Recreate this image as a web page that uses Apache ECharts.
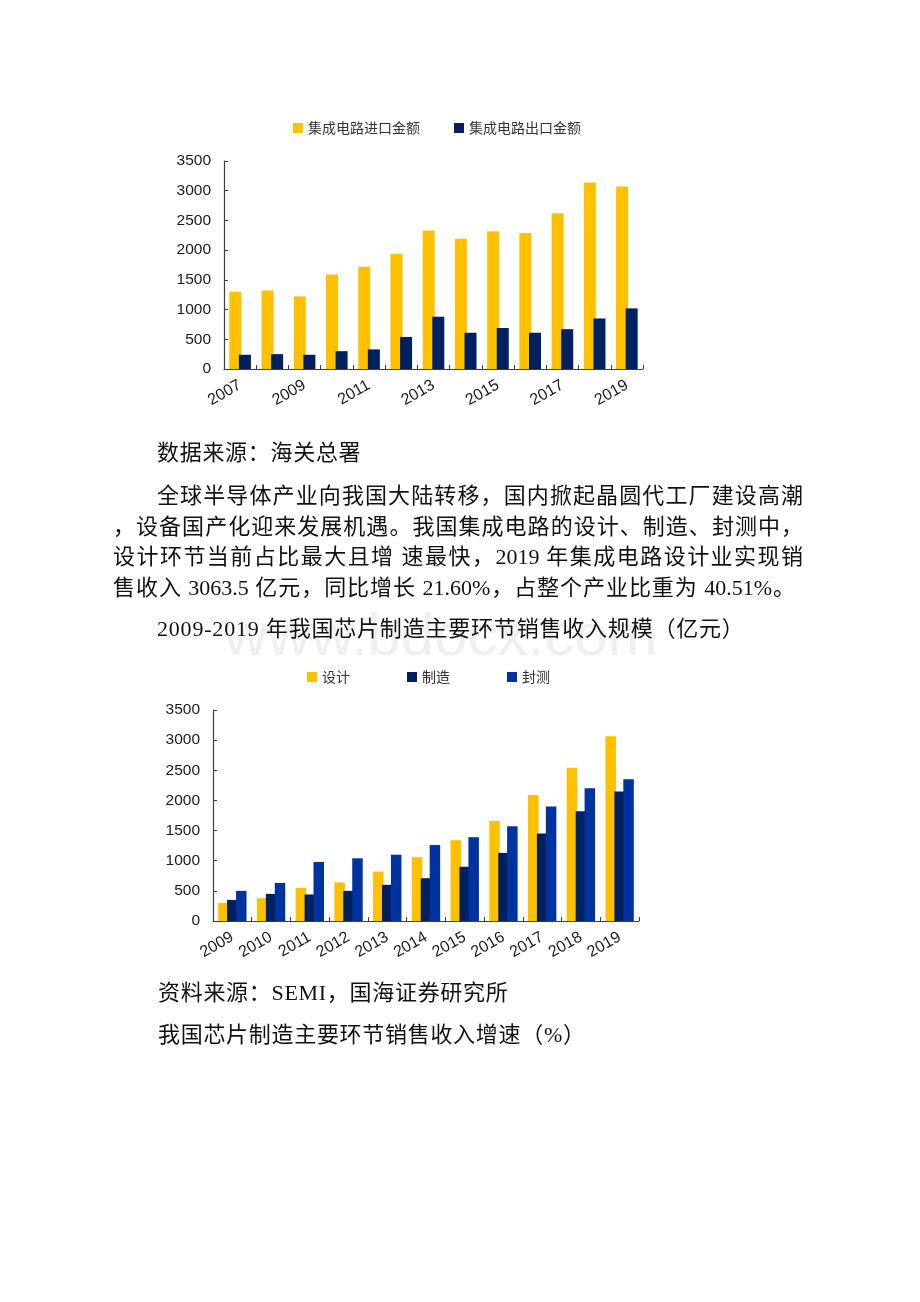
<!DOCTYPE html>
<html>
<head>
<meta charset="utf-8">
<script src="https://cdn.jsdelivr.net/npm/echarts@6/dist/echarts.min.js"></script>
<style>
  html, body { margin: 0; padding: 0; background: #fff; }
  #page { position: relative; width: 920px; height: 1302px; overflow: hidden; background: #fff; }
  #chart { position: absolute; left: 0; top: 0; width: 920px; height: 1302px; }
  .t { position: absolute; font-size: 22px; line-height: 30px; color: #111;
       font-family: "Liberation Serif", "Noto Sans CJK SC", serif; white-space: nowrap; letter-spacing: 0.7px; z-index: 3; }
  .j { white-space: normal; text-align: justify; text-align-last: justify; letter-spacing: 0; }
  .wm { position: absolute; font-family: "Liberation Sans", Arial, sans-serif; font-size: 60px; line-height: 60px;
        color: #efefef; left: 224px; top: 605px; z-index: 2; white-space: nowrap; }
</style>
</head>
<body>
<div id="page">
  <div id="chart"></div>
  <div class="wm">www.bdocx.com</div>
  <div class="t" style="left:157px;top:438px;">数据来源：海关总署</div>
  <div class="t j" style="left:157px;top:481px;width:646px;">全球半导体产业向我国大陆转移，国内掀起晶圆代工厂建设高潮</div>
  <div class="t j" style="left:113px;top:512px;width:690px;">，设备国产化迎来发展机遇。我国集成电路的设计、制造、封测中，</div>
  <div class="t j" style="left:113px;top:542px;width:690px;">设计环节当前占比最大且增 速最快，2019 年集成电路设计业实现销</div>
  <div class="t j" style="left:113px;top:573px;width:682px;">售收入 3063.5 亿元，同比增长 21.60%，占整个产业比重为 40.51%。</div>
  <div class="t" style="left:157px;top:614px;letter-spacing:0.8px;">2009-2019 年我国芯片制造主要环节销售收入规模（亿元）</div>
  <div class="t" style="left:158px;top:978px;">资料来源：SEMI，国海证券研究所</div>
  <div class="t" style="left:158px;top:1020px;">我国芯片制造主要环节销售收入增速（%）</div>
</div>
<script>
// ---- Chart 1: 集成电路进出口金额 ----
const years1 = ['2007','2008','2009','2010','2011','2012','2013','2014','2015','2016','2017','2018','2019'];
const importVals = [1300, 1320, 1220, 1590, 1720, 1940, 2330, 2190, 2320, 2290, 2620, 3140, 3070];
const exportVals = [240, 250, 240, 300, 330, 540, 880, 610, 690, 610, 670, 850, 1020];
const seriesNames1 = ['集成电路进口金额', '集成电路出口金额'];

// ---- Chart 2: 芯片制造主要环节销售收入规模 ----
const years2 = ['2009','2010','2011','2012','2013','2014','2015','2016','2017','2018','2019'];
const designVals = [300, 380, 550, 640, 820, 1060, 1340, 1660, 2090, 2540, 3064];
const mfgVals    = [350, 450, 440, 500, 600, 710, 900, 1130, 1450, 1820, 2150];
const testVals   = [500, 630, 980, 1040, 1100, 1260, 1390, 1570, 1900, 2200, 2350];
const seriesNames2 = ['设计', '制造', '封测'];

// shared value-axis scale
const yMin = 0, yMax = 3500, yStep = 500;

const YELLOW = '#FFC000', NAVY = '#002060', BLUE = '#0033A0';
const AXIS = '#404040';
const FONT = 'Liberation Sans, Arial, sans-serif';

function catAxis(gridIndex, data, labelInterval) {
  return {
    type: 'category', gridIndex, data, boundaryGap: true,
    axisLine: { show: true, lineStyle: { color: AXIS, width: 1.2 } },
    axisTick: { show: true, inside: true, length: 4, interval: 0, lineStyle: { color: AXIS } },
    axisLabel: { rotate: 30, margin: 15, interval: labelInterval, fontFamily: FONT, fontSize: 16, color: '#1a1a1a' },
    splitLine: { show: false }
  };
}
function valAxis(gridIndex) {
  return {
    type: 'value', gridIndex, min: yMin, max: yMax, interval: yStep,
    axisLine: { show: true, lineStyle: { color: AXIS, width: 1.2 } },
    axisTick: { show: true, inside: true, length: 4, lineStyle: { color: AXIS } },
    axisLabel: { margin: 13, fontFamily: FONT, fontSize: 15.5, color: '#1a1a1a', formatter: v => String(v) },
    splitLine: { show: false }
  };
}
const legendText = { fontSize: 14, color: '#333', fontFamily: 'Noto Sans CJK SC, sans-serif' };

const chart = echarts.init(document.getElementById('chart'), null, { renderer: 'canvas' });
chart.setOption({
  animation: false,
  backgroundColor: 'transparent',
  grid: [
    { left: 224, top: 161, width: 419, height: 208, containLabel: false },
    { left: 213, top: 710, width: 426, height: 211, containLabel: false }
  ],
  legend: [
    { data: seriesNames1, left: 288, top: 116, itemWidth: 10, itemHeight: 10, itemGap: 34, icon: 'rect', textStyle: legendText },
    { data: seriesNames2, left: 302, top: 665, itemWidth: 10, itemHeight: 10, itemGap: 57, icon: 'rect', textStyle: legendText }
  ],
  xAxis: [catAxis(0, years1, 1), catAxis(1, years2, 0)],
  yAxis: [valAxis(0), valAxis(1)],
  series: [
    { name: seriesNames1[0], type: 'bar', xAxisIndex: 0, yAxisIndex: 0, data: importVals, barWidth: 12, barGap: '-20%', itemStyle: { color: YELLOW } },
    { name: seriesNames1[1], type: 'bar', xAxisIndex: 0, yAxisIndex: 0, data: exportVals, barWidth: 12, barGap: '-20%', itemStyle: { color: NAVY } },
    { name: seriesNames2[0], type: 'bar', xAxisIndex: 1, yAxisIndex: 1, data: designVals, barWidth: 10.5, barGap: '-15%', itemStyle: { color: YELLOW } },
    { name: seriesNames2[1], type: 'bar', xAxisIndex: 1, yAxisIndex: 1, data: mfgVals, barWidth: 10.5, barGap: '-15%', itemStyle: { color: NAVY } },
    { name: seriesNames2[2], type: 'bar', xAxisIndex: 1, yAxisIndex: 1, data: testVals, barWidth: 10.5, barGap: '-15%', itemStyle: { color: BLUE } }
  ]
});
</script>
</body>
</html>
